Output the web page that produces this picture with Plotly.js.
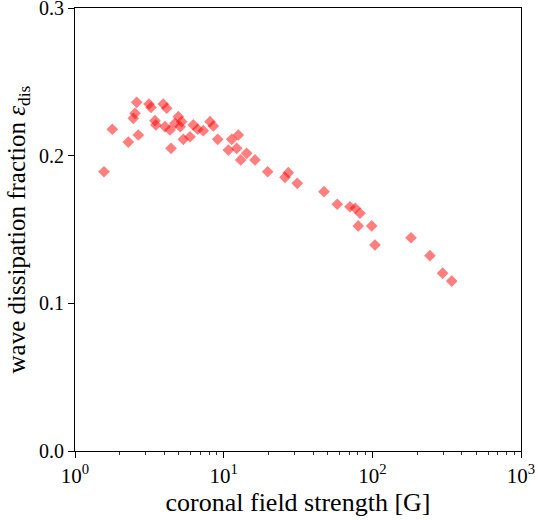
<!DOCTYPE html>
<html><head><meta charset="utf-8">
<script src="https://cdn.plot.ly/plotly-3.0.1.min.js"></script>
<style>html,body{margin:0;padding:0;background:#fff}#plot{width:538px;height:520px}</style>
</head><body><div id="plot"></div>
<script>
var fieldStrength = [1.567,1.782,2.283,2.666,2.600,2.533,2.466,3.146,3.245,3.926,4.139,3.452,3.50,4.423,4.031,4.355,4.705,4.953,5.22,5.10,5.353,5.935,6.247,6.69,7.29,8.09,8.52,9.12,10.75,11.33,12.54,12.24,14.29,13.02,16.25,19.77,27.21,25.85,31.27,47.3,58.1,70.7,76.8,82.6,80.4,99.0,104.2,182,244,297,342];
var dissipation = [0.1891,0.2179,0.2092,0.2140,0.2361,0.2287,0.2253,0.2350,0.2327,0.2350,0.2321,0.2237,0.2208,0.2050,0.2196,0.2174,0.2219,0.2264,0.2230,0.2196,0.2111,0.2128,0.2208,0.2179,0.2169,0.2230,0.2201,0.2111,0.2038,0.2111,0.2140,0.2050,0.2016,0.1971,0.1971,0.1891,0.1885,0.1853,0.1813,0.1756,0.1671,0.1654,0.1644,0.1610,0.1524,0.1524,0.1395,0.1444,0.1323,0.1204,0.1151];
var xTickVals = [1,10,100,1000];
var xTickText = ['10<sup>0</sup>','10<sup>1</sup>','10<sup>2</sup>','10<sup>3</sup>'];
var xMinor = [];
[1,10,100].forEach(function(d){for(var k=2;k<=9;k++)xMinor.push(k*d);});
var yTickVals = [0,0.1,0.2,0.3];
var yTickText = ['0.0','0.1','0.2','0.3'];

var trace = {
  x: fieldStrength, y: dissipation, type:'scatter', mode:'markers',
  marker:{symbol:'diamond', size:9, color:'red', opacity:0.5, line:{width:0}},
  hoverinfo:'skip', cliponaxis:false
};
var font = {family:'"Liberation Serif", "DejaVu Serif", serif', color:'#000'};
var layout = {
  width:538, height:520,
  margin:{l:75, r:17, t:8, b:69},
  paper_bgcolor:'#fff', plot_bgcolor:'#fff',
  showlegend:false,
  font: Object.assign({size:20}, font),
  xaxis:{
    type:'log', range:[0,3], showgrid:false, zeroline:false,
    showline:true, mirror:true, linecolor:'#000', linewidth:1,
    ticks:'outside', ticklen:6, tickwidth:1, tickcolor:'#000',
    tickmode:'array', tickvals:xTickVals, ticktext:xTickText,
    ticklabeloverflow:'allow',
    tickfont:Object.assign({size:21}, font),
    minor:{tickmode:'array', tickvals:xMinor, ticks:'outside', ticklen:3, tickwidth:0.8, tickcolor:'#000', showgrid:false},
    title:{text:'coronal field strength [G]', font:Object.assign({size:26}, font), standoff:1}
  },
  yaxis:{
    range:[0,0.3], showgrid:false, zeroline:false,
    showline:true, mirror:true, linecolor:'#000', linewidth:1,
    ticks:'outside', ticklen:6, tickwidth:1, tickcolor:'#000',
    tickmode:'array', tickvals:yTickVals, ticktext:yTickText,
    ticklabeloverflow:'allow',
    tickfont:Object.assign({size:20}, font),
    title:{text:'wave dissipation fraction <i>ε</i><sub>dis</sub>', font:Object.assign({size:25}, font), standoff:6}
  }
};
Plotly.newPlot('plot',[trace],layout,{staticPlot:true, displayModeBar:false});
</script></body></html>
